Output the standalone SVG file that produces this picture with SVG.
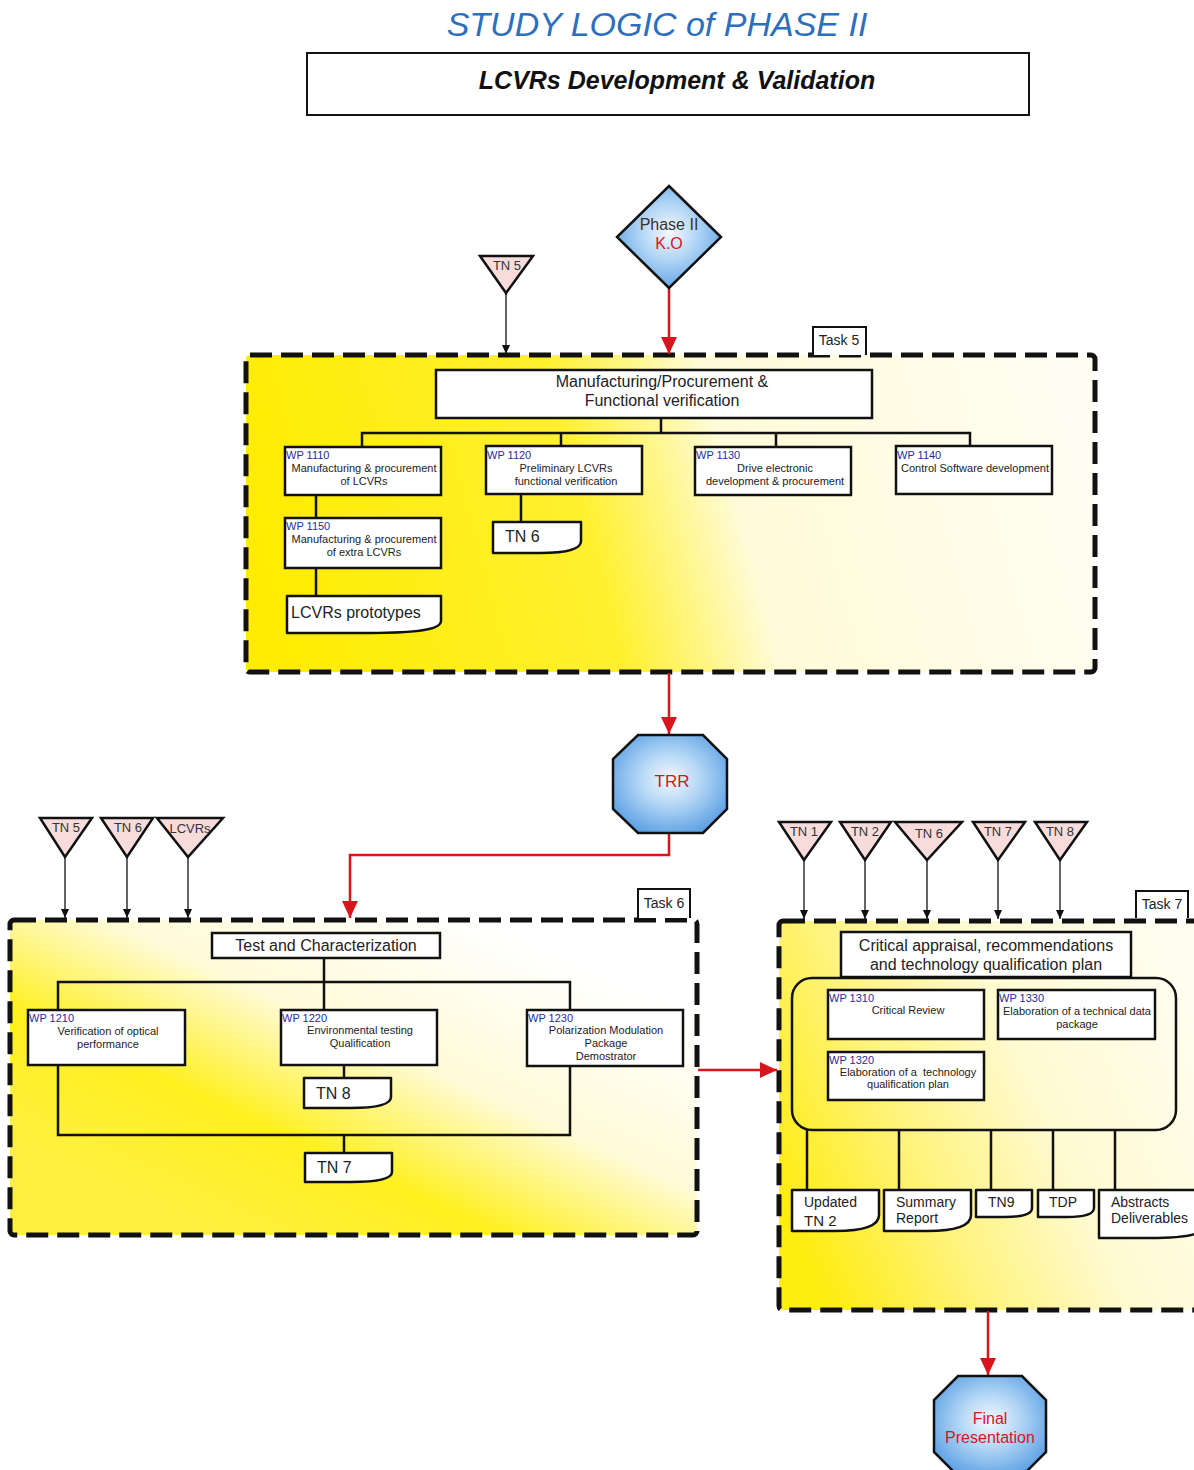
<svg xmlns="http://www.w3.org/2000/svg" width="1194" height="1470" viewBox="0 0 1194 1470">
  <style>
    text { font-family: "Liberation Sans", Arial, sans-serif; fill: #222; }
    .box { fill: #fff; stroke: #111; stroke-width: 2.5; }
    .doc { fill: #fff; stroke: #111; stroke-width: 2.5; stroke-linejoin: round; }
    .task { stroke: #111; stroke-width: 5; stroke-dasharray: 22 9; }
    .tab { fill: #fff; stroke: #111; stroke-width: 2; }
    .tri { fill: #f8dcdc; stroke: #111; stroke-width: 2.5; stroke-linejoin: miter; }
    .wire { fill: none; stroke: #111; stroke-width: 2.5; }
    .feed { fill: none; stroke: #111; stroke-width: 1.3; }
    .flow { fill: none; stroke: #d8141c; stroke-width: 2.5; }
    .milestone { fill: url(#blueGlow); stroke: #111; stroke-width: 2.5; stroke-linejoin: miter; }
    .wp { font-size: 11px; fill: #2a2a9a; }
    .wpt { font-size: 11px; fill: #222; text-anchor: middle; white-space: pre; }
    .lbl { font-size: 16px; text-anchor: middle; }
    .tn { font-size: 13px; text-anchor: middle; fill: #333; }
    .out { font-size: 16px; }
    .tasklbl { font-size: 14px; text-anchor: middle; }
    .red { fill: #d8141c; }
  </style>
  <defs>
    <marker id="arrowBlack" markerUnits="userSpaceOnUse" markerWidth="10" markerHeight="10" refX="9" refY="5" orient="auto">
      <path d="M0,1 L9,5 L0,9 z" fill="#111"/>
    </marker>
    <marker id="arrowRed" markerUnits="userSpaceOnUse" markerWidth="18" markerHeight="16" refX="17" refY="8" orient="auto">
      <path d="M0,0 L17,8 L0,16 z" fill="#d8141c"/>
    </marker>
    <radialGradient id="blueGlow" cx="0.5" cy="0.45" r="0.6">
      <stop offset="0" stop-color="#f4f9fe"/>
      <stop offset="0.45" stop-color="#b2d6f5"/>
      <stop offset="1" stop-color="#5a9fe4"/>
    </radialGradient>
    <linearGradient id="fill5" x1="0" y1="0.55" x2="1" y2="0.45">
      <stop offset="0" stop-color="#ffec00"/>
      <stop offset="0.4" stop-color="#fff030"/>
      <stop offset="0.5" stop-color="#fff68a"/>
      <stop offset="0.58" stop-color="#fffbd8"/>
      <stop offset="1" stop-color="#fffdf2"/>
    </linearGradient>
    <linearGradient id="fill6" x1="0.1" y1="0.8" x2="0.8" y2="0.1">
      <stop offset="0" stop-color="#fff040"/>
      <stop offset="0.3" stop-color="#fff020"/>
      <stop offset="0.6" stop-color="#fffbd8"/>
      <stop offset="1" stop-color="#ffffff"/>
    </linearGradient>
    <linearGradient id="fill7" x1="0" y1="0.7" x2="1" y2="0.3">
      <stop offset="0" stop-color="#ffec10"/>
      <stop offset="0.3" stop-color="#fff37a"/>
      <stop offset="0.6" stop-color="#fffad0"/>
      <stop offset="1" stop-color="#fffdf0"/>
    </linearGradient>
  </defs>

  <rect x="0" y="0" width="1194" height="1470" fill="#fff"/>

  <!-- heading -->
  <g id="title">
    <text x="657" y="36" font-size="34" font-style="italic" text-anchor="middle" style="fill:#2d6fbd">STUDY LOGIC of PHASE II</text>
  </g>
  <g id="header">
    <rect x="307" y="53" width="722" height="62" fill="#fff" stroke="#111" stroke-width="2"/>
    <text x="677" y="89" font-size="25" font-weight="bold" font-style="italic" text-anchor="middle" style="fill:#111">LCVRs Development &amp; Validation</text>
  </g>

  <!-- task containers -->
  <g id="task5">
    <rect class="task" x="246" y="355" width="849" height="317" rx="4" fill="url(#fill5)"/>
    <path class="tab" d="M813,355 V327 H866 V355"/>
    <text class="tasklbl" x="839" y="345">Task 5</text>
  </g>
  <g id="task6">
    <rect class="task" x="10" y="920" width="687" height="315" rx="4" fill="url(#fill6)"/>
    <path class="tab" d="M638,918 V889 H690 V918"/>
    <text class="tasklbl" x="664" y="908">Task 6</text>
  </g>
  <g id="task7">
    <rect class="task" x="779" y="921" width="430" height="389" rx="4" fill="url(#fill7)"/>
    <path class="tab" d="M1136,918 V891 H1188 V918"/>
    <text class="tasklbl" x="1162" y="909">Task 7</text>
  </g>

  <!-- connectors -->
  <g id="connectors">
    <!-- milestone flow -->
    <path class="flow" d="M669,288 V354" marker-end="url(#arrowRed)"/>
    <path class="flow" d="M669,673 V734" marker-end="url(#arrowRed)"/>
    <path class="flow" d="M669,833 V855 H350 V918" marker-end="url(#arrowRed)"/>
    <path class="flow" d="M698,1070 H777" marker-end="url(#arrowRed)"/>
    <path class="flow" d="M988,1311 V1375" marker-end="url(#arrowRed)"/>

    <!-- inputs -->
    <path class="feed" d="M506,293 V354" marker-end="url(#arrowBlack)"/>
    <path class="feed" d="M65,857 V918" marker-end="url(#arrowBlack)"/>
    <path class="feed" d="M127,857 V918" marker-end="url(#arrowBlack)"/>
    <path class="feed" d="M188,857 V918" marker-end="url(#arrowBlack)"/>
    <path class="feed" d="M804,860 V919" marker-end="url(#arrowBlack)"/>
    <path class="feed" d="M865,860 V919" marker-end="url(#arrowBlack)"/>
    <path class="feed" d="M927,860 V919" marker-end="url(#arrowBlack)"/>
    <path class="feed" d="M998,860 V919" marker-end="url(#arrowBlack)"/>
    <path class="feed" d="M1060,860 V919" marker-end="url(#arrowBlack)"/>

    <!-- task 5 tree -->
    <path class="wire" d="M661,418 V433 M362,447 V433 H970 V446 M561,433 V446 M776,433 V447"/>
    <path class="wire" d="M316,495 V518 M316,568 V596 M521,494 V522"/>

    <!-- task 6 tree -->
    <path class="wire" d="M324,958 V1010 M58,1010 V982 H570 V1010"/>
    <path class="wire" d="M344,1065 V1078"/>
    <path class="wire" d="M58,1065 V1135 H570 V1066 M344,1135 V1153"/>

    <!-- task 7 tree -->
    <path class="wire" d="M807,1130 V1190 M899,1130 V1190 M991,1130 V1190 M1053,1130 V1190 M1115,1130 V1190"/>
  </g>

  <!-- milestones -->
  <g id="phase2-ko">
    <polygon class="milestone" points="669,186 721,237 669,288 617,237"/>
    <text x="669" y="230" font-size="16" text-anchor="middle" style="fill:#333">Phase II</text>
    <text class="red" x="669" y="249" font-size="16" text-anchor="middle">K.O</text>
  </g>
  <g id="trr">
    <polygon class="milestone" points="638,735 703,735 727,759 727,809 703,833 638,833 613,809 613,759"/>
    <text class="red" x="672" y="787" font-size="17" text-anchor="middle">TRR</text>
  </g>
  <g id="final-presentation">
    <polygon class="milestone" points="958,1376 1022,1376 1046,1400 1046,1452 1022,1476 958,1476 934,1452 934,1400"/>
    <text class="red" x="990" y="1424" font-size="16" text-anchor="middle">Final</text>
    <text class="red" x="990" y="1443" font-size="16" text-anchor="middle">Presentation</text>
  </g>

  <!-- input documents -->
  <g id="in-tn5-top">
    <polygon class="tri" points="480,256 533,256 506,293"/>
    <text class="tn" x="507" y="270">TN 5</text>
  </g>
  <g id="in-tn5">
    <polygon class="tri" points="40,818 92,818 65,857"/>
    <text class="tn" x="66" y="832">TN 5</text>
  </g>
  <g id="in-tn6">
    <polygon class="tri" points="101,818 153,818 127,857"/>
    <text class="tn" x="128" y="832">TN 6</text>
  </g>
  <g id="in-lcvrs">
    <polygon class="tri" points="157,818 223,818 188,857"/>
    <text class="tn" x="190" y="833">LCVRs</text>
  </g>
  <g id="in-tn1">
    <polygon class="tri" points="779,822 831,822 804,860"/>
    <text class="tn" x="804" y="836">TN 1</text>
  </g>
  <g id="in-tn2">
    <polygon class="tri" points="840,822 891,822 865,860"/>
    <text class="tn" x="865" y="836">TN 2</text>
  </g>
  <g id="in-tn6b">
    <polygon class="tri" points="895,822 962,822 927,860"/>
    <text class="tn" x="929" y="838">TN 6</text>
  </g>
  <g id="in-tn7">
    <polygon class="tri" points="973,822 1025,822 998,860"/>
    <text class="tn" x="998" y="836">TN 7</text>
  </g>
  <g id="in-tn8">
    <polygon class="tri" points="1035,822 1087,822 1060,860"/>
    <text class="tn" x="1060" y="836">TN 8</text>
  </g>

  <!-- task 5 content -->
  <g id="mfg-verification">
    <rect class="box" x="436" y="370" width="436" height="48"/>
    <text class="lbl" x="662" y="387">Manufacturing/Procurement &amp;</text>
    <text class="lbl" x="662" y="406">Functional verification</text>
  </g>
  <g id="wp1110">
    <rect class="box" x="285" y="447" width="156" height="48"/>
    <text class="wp" x="286" y="459">WP 1110</text>
    <text class="wpt" x="364" y="472">Manufacturing &amp; procurement</text>
    <text class="wpt" x="364" y="485">of LCVRs</text>
  </g>
  <g id="wp1150">
    <rect class="box" x="285" y="518" width="156" height="50"/>
    <text class="wp" x="286" y="530">WP 1150</text>
    <text class="wpt" x="364" y="543">Manufacturing &amp; procurement</text>
    <text class="wpt" x="364" y="556">of extra LCVRs</text>
  </g>
  <g id="lcvrs-prototypes">
    <path class="doc" d="M287,596 H441 V621 C441,632 400,633 370,633 H287 Z"/>
    <text class="out" x="291" y="618" font-size="17">LCVRs prototypes</text>
  </g>
  <g id="wp1120">
    <rect class="box" x="486" y="446" width="156" height="48"/>
    <text class="wp" x="487" y="459">WP 1120</text>
    <text class="wpt" x="566" y="472">Preliminary LCVRs</text>
    <text class="wpt" x="566" y="485">functional verification</text>
  </g>
  <g id="tn6-out">
    <path class="doc" d="M493,522 H581 V541 C581,552 555,553 540,553 H493 Z"/>
    <text class="out" x="505" y="542" font-size="17">TN 6</text>
  </g>
  <g id="wp1130">
    <rect class="box" x="695" y="447" width="156" height="48"/>
    <text class="wp" x="696" y="459">WP 1130</text>
    <text class="wpt" x="775" y="472">Drive electronic</text>
    <text class="wpt" x="775" y="485">development &amp; procurement</text>
  </g>
  <g id="wp1140">
    <rect class="box" x="896" y="446" width="156" height="48"/>
    <text class="wp" x="897" y="459">WP 1140</text>
    <text class="wpt" x="975" y="472">Control Software development</text>
  </g>

  <!-- task 6 content -->
  <g id="test-characterization">
    <rect class="box" x="212" y="933" width="228" height="25"/>
    <text class="lbl" x="326" y="951">Test and Characterization</text>
  </g>
  <g id="wp1210">
    <rect class="box" x="28" y="1010" width="157" height="55"/>
    <text class="wp" x="29" y="1022">WP 1210</text>
    <text class="wpt" x="108" y="1035">Verification of optical</text>
    <text class="wpt" x="108" y="1048">performance</text>
  </g>
  <g id="wp1220">
    <rect class="box" x="281" y="1010" width="156" height="55"/>
    <text class="wp" x="282" y="1022">WP 1220</text>
    <text class="wpt" x="360" y="1034">Environmental testing</text>
    <text class="wpt" x="360" y="1047">Qualification</text>
  </g>
  <g id="wp1230">
    <rect class="box" x="527" y="1010" width="156" height="56"/>
    <text class="wp" x="528" y="1022">WP 1230</text>
    <text class="wpt" x="606" y="1034">Polarization Modulation</text>
    <text class="wpt" x="606" y="1047">Package</text>
    <text class="wpt" x="606" y="1060">Demostrator</text>
  </g>
  <g id="tn8-out">
    <path class="doc" d="M304,1078 H391 V1097 C391,1107 365,1108 350,1108 H304 Z"/>
    <text class="out" x="316" y="1099">TN 8</text>
  </g>
  <g id="tn7-out">
    <path class="doc" d="M305,1153 H392 V1172 C392,1181 366,1182 351,1182 H305 Z"/>
    <text class="out" x="317" y="1173">TN 7</text>
  </g>

  <!-- task 7 content -->
  <g id="critical-appraisal">
    <rect class="box" x="841" y="932" width="290" height="45"/>
    <text class="lbl" x="986" y="951">Critical appraisal, recommendations</text>
    <text class="lbl" x="986" y="970">and technology qualification plan</text>
  </g>
  <g id="wp-group">
    <rect x="792" y="978" width="384" height="152" rx="20" fill="none" stroke="#111" stroke-width="2.5"/>
  </g>
  <g id="wp1310">
    <rect class="box" x="828" y="990" width="156" height="49"/>
    <text class="wp" x="829" y="1002">WP 1310</text>
    <text class="wpt" x="908" y="1014">Critical Review</text>
  </g>
  <g id="wp1330">
    <rect class="box" x="998" y="990" width="157" height="49"/>
    <text class="wp" x="999" y="1002">WP 1330</text>
    <text class="wpt" x="1077" y="1015">Elaboration of a technical data</text>
    <text class="wpt" x="1077" y="1028">package</text>
  </g>
  <g id="wp1320">
    <rect class="box" x="828" y="1052" width="156" height="48"/>
    <text class="wp" x="829" y="1064">WP 1320</text>
    <text class="wpt" x="908" y="1076">Elaboration of a  technology</text>
    <text class="wpt" x="908" y="1088">qualification plan</text>
  </g>
  <g id="updated-tn2">
    <path class="doc" d="M792,1190 H879 V1215 C879,1229 855,1231 835,1231 H792 Z"/>
    <text x="804" y="1207" font-size="14">Updated</text>
    <text x="804" y="1226" font-size="15">TN 2</text>
  </g>
  <g id="summary-report">
    <path class="doc" d="M884,1190 H971 V1215 C971,1229 947,1231 927,1231 H884 Z"/>
    <text x="896" y="1207" font-size="14">Summary</text>
    <text x="896" y="1223" font-size="14">Report</text>
  </g>
  <g id="tn9-out">
    <path class="doc" d="M976,1190 H1032 V1208 C1032,1216 1015,1217 1005,1217 H976 Z"/>
    <text x="988" y="1207" font-size="14">TN9</text>
  </g>
  <g id="tdp-out">
    <path class="doc" d="M1038,1190 H1094 V1208 C1094,1216 1077,1217 1067,1217 H1038 Z"/>
    <text x="1049" y="1207" font-size="14">TDP</text>
  </g>
  <g id="abstracts-deliverables">
    <path class="doc" d="M1099,1190 H1200 V1232 C1190,1237 1170,1238 1150,1238 H1099 Z"/>
    <text x="1111" y="1207" font-size="14">Abstracts</text>
    <text x="1111" y="1223" font-size="14">Deliverables</text>
  </g>
</svg>
